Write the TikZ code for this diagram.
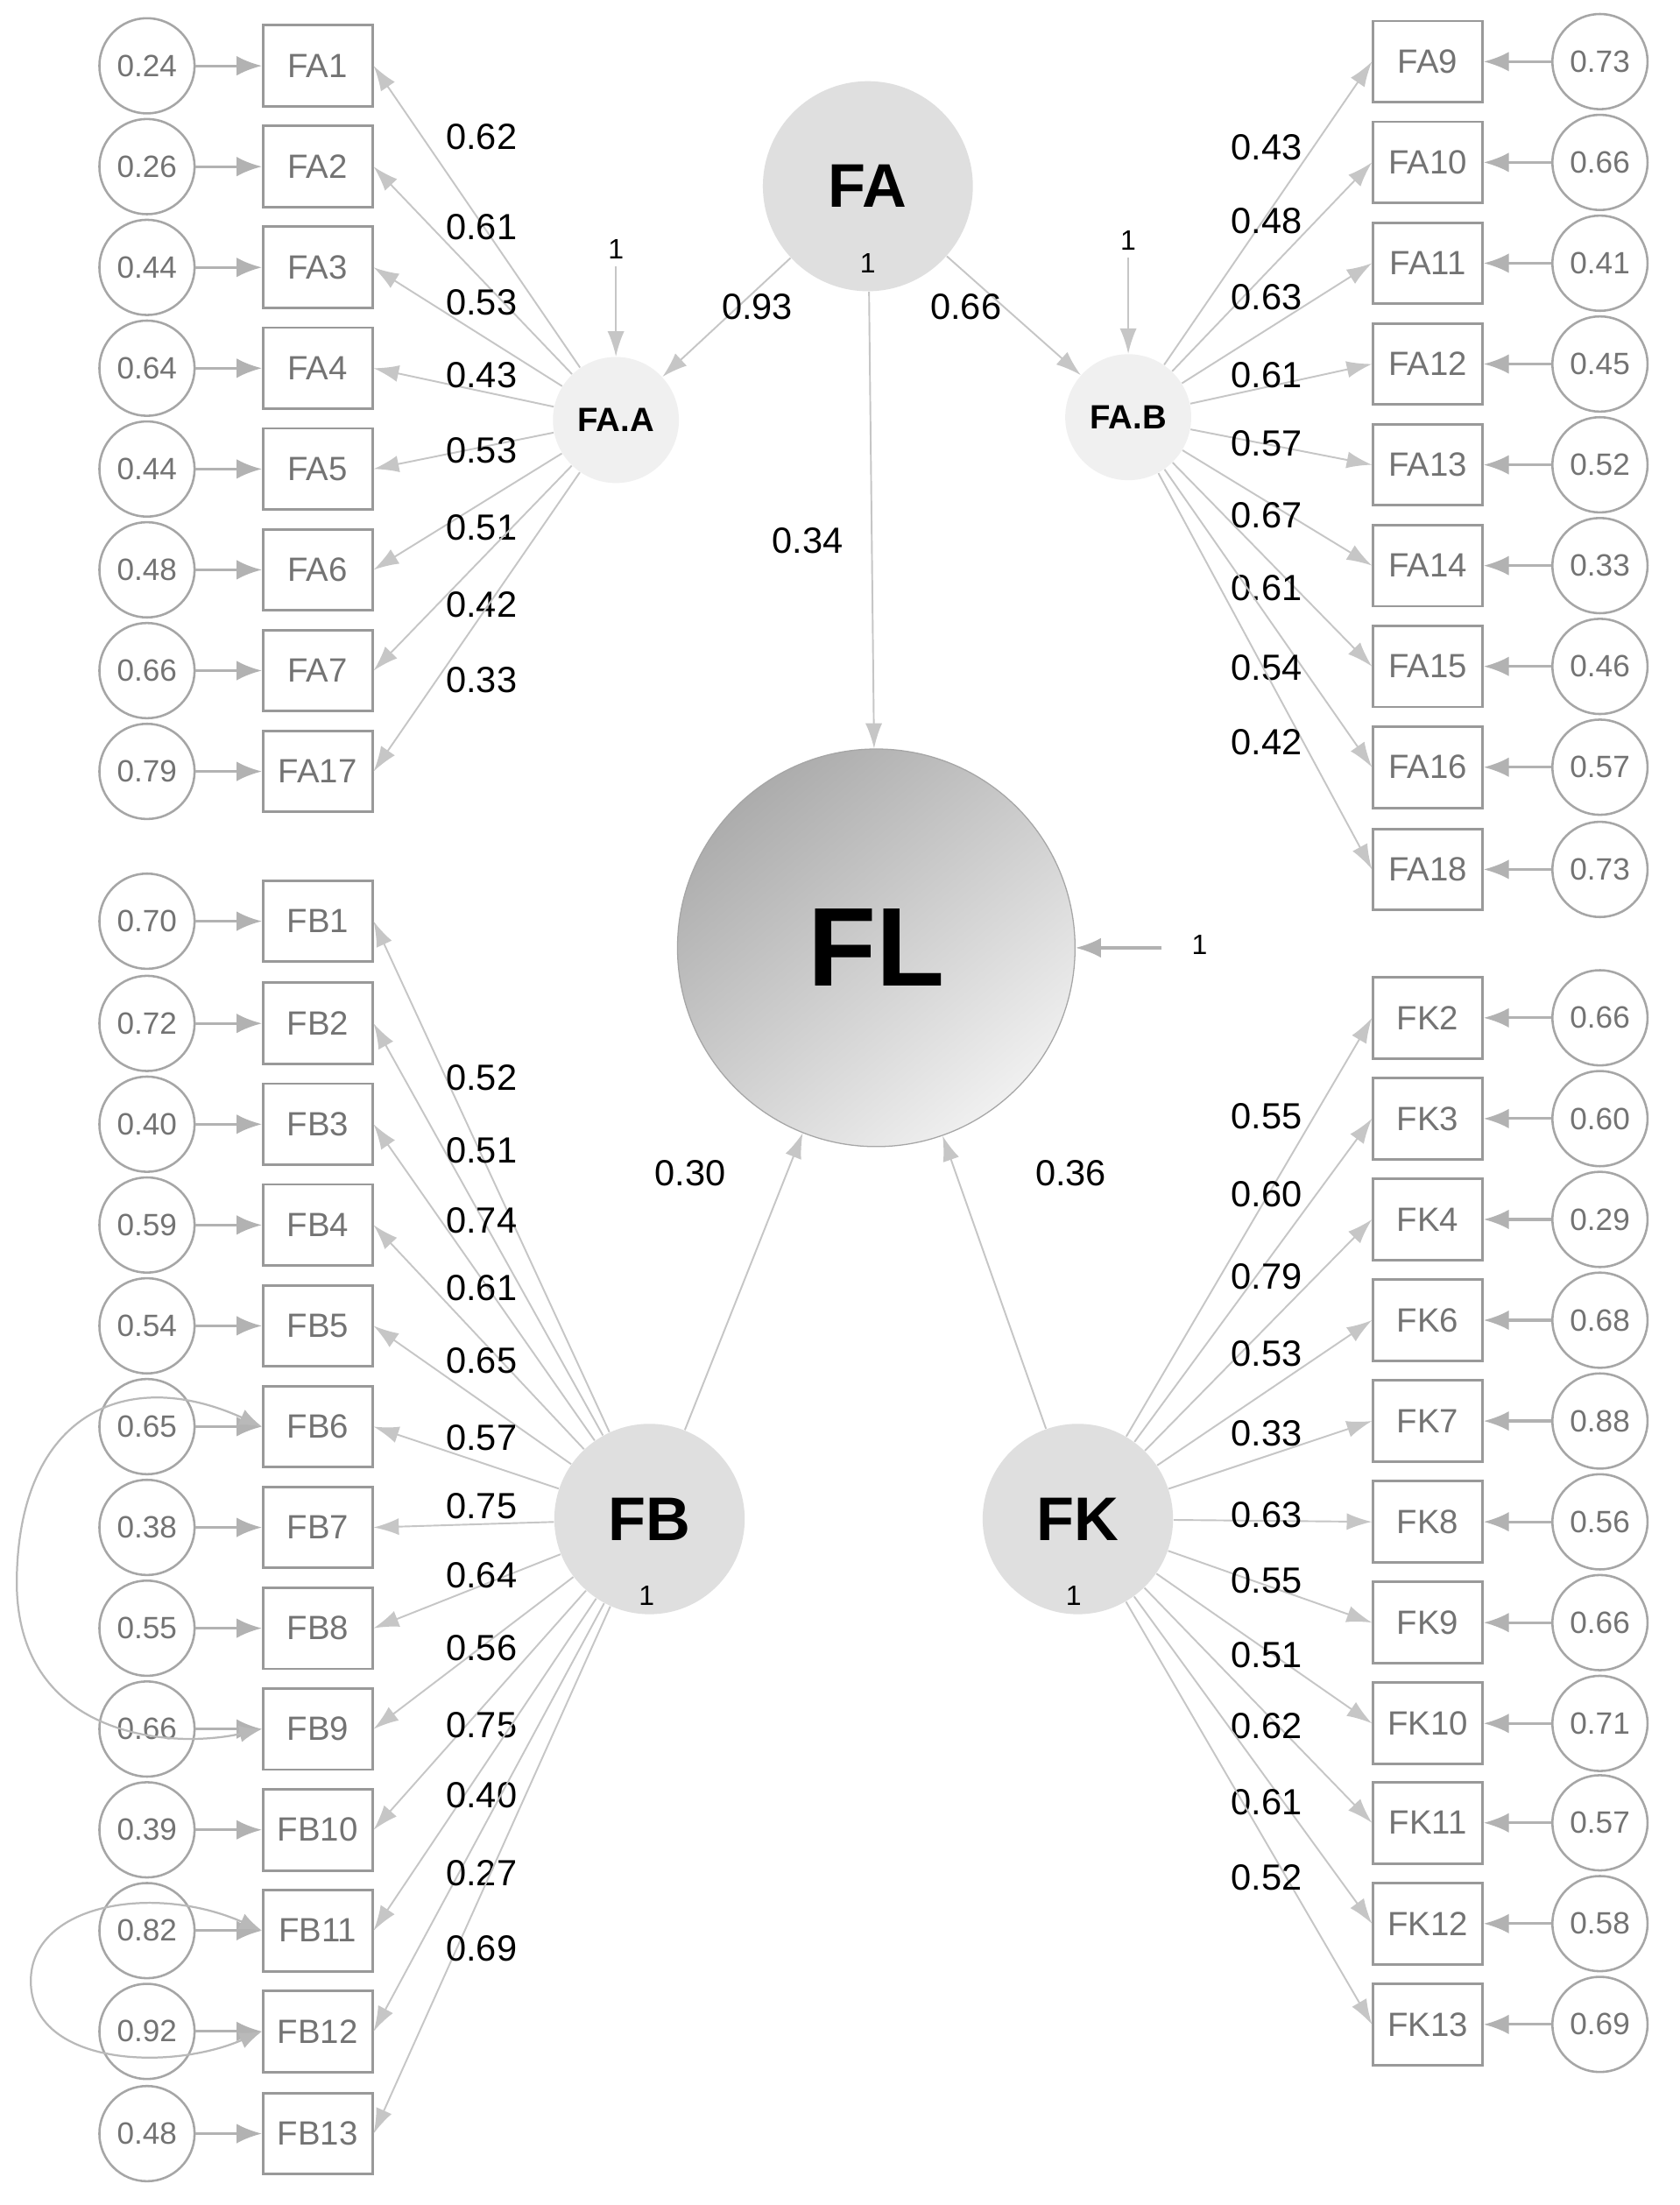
\documentclass[tikz,border=0pt]{standalone}
\usepackage{fontspec}
\setmainfont{Liberation Sans}
\usetikzlibrary{arrows.meta}
\begin{document}
\begin{tikzpicture}[x=0.5pt,y=-0.5pt,
  obs/.style={draw=gray!80,line width=0.9pt,minimum width=39pt,minimum height=29pt,inner sep=0pt,text=gray!90!black,font=\fontsize{12}{12}\selectfont},
  err/.style={circle,draw=gray!70,line width=0.8pt,minimum size=34pt,inner sep=0pt,text=gray!90!black,font=\fontsize{11}{11}\selectfont},
  lat/.style={circle,fill=gray!25,inner sep=0pt,font=\bfseries\fontsize{22}{22}\selectfont},
  sub/.style={circle,fill=gray!12,inner sep=0pt,font=\bfseries\fontsize{12}{12}\selectfont},
  ar/.style={-{Latex[length=9pt,width=6pt]},draw=gray!45,line width=0.6pt,color=gray!45},
  ear/.style={-{Latex[length=9pt,width=7pt]},draw=gray!60,line width=1pt,color=gray!60},
  cov/.style={{Latex[length=8pt,width=6pt]}-{Latex[length=8pt,width=6pt]},draw=gray!55,color=gray!55,line width=0.7pt},
  lab/.style={font=\fontsize{13}{13}\selectfont},
  one/.style={font=\fontsize{10}{10}\selectfont}]
\useasboundingbox (0,0) rectangle (1200,1575);
\fill[white] (0,0) rectangle (1200,1575);
% latents
\node[lat,minimum size=75pt] (FA) at (620,133) {FA};
\node[one] at (620,188) {1};
\node[sub,minimum size=45pt] (FAA) at (440,300) {FA.A};
\node[sub,minimum size=45pt] (FAB) at (806,298) {FA.B};
\node[circle,draw=gray!70,minimum size=142pt,inner sep=0pt,shading=axis,left color=gray!65,right color=gray!12,shading angle=40,font=\bfseries\fontsize{40}{40}\selectfont] (FL) at (626,677) {FL};
\node[lat,minimum size=68pt] (FB) at (464,1085) {FB};
\node[one] at (462,1140) {1};
\node[lat,minimum size=68pt] (FK) at (770,1085) {FK};
\node[one] at (767,1140) {1};
% structural
\draw[ar] (FA) -- (FAA); \node[lab] at (541,219) {0.93};
\draw[ar] (FA) -- (FAB); \node[lab] at (690,219) {0.66};
\draw[ar] (FA) -- (FL); \node[lab] at (577,386) {0.34};
\draw[ar] (FB) -- (FL); \node[lab] at (493,838) {0.30};
\draw[ar] (FK) -- (FL); \node[lab] at (765,838) {0.36};
\coordinate (d0) at (830,677); \node[one] at (857,675) {1};
\draw[ear] (d0) -- (FL.east);
\coordinate (d1) at (440,190); \node[one] at (440,178) {1};
\draw[ar] (d1) -- (FAA.north);
\coordinate (d2) at (806,184); \node[one] at (806,172) {1};
\draw[ar] (d2) -- (FAB.north);
% FA.A
\foreach \n/\y/\e/\l/\ly in {FA1/47/0.24/0.62/98,FA2/119/0.26/0.61/162,FA3/191/0.44/0.53/216,FA4/263/0.64/0.43/268,FA5/335/0.44/0.53/322,FA6/407/0.48/0.51/377,FA7/479/0.66/0.42/432,FA17/551/0.79/0.33/486}{
  \node[obs] (\n) at (227,\y) {\n};
  \node[err] (e\n) at (105,\y) {\e};
  \draw[ear] (e\n) -- (\n);
  \draw[ar] (FAA) -- (\n.east);
  \node[lab] at (344,\ly) {\l};}
% FA.B
\foreach \n/\y/\e/\l/\ly in {FA9/44/0.73/0.43/105,FA10/116/0.66/0.48/158,FA11/188/0.41/0.63/212,FA12/260/0.45/0.61/268,FA13/332/0.52/0.57/317,FA14/404/0.33/0.67/368,FA15/476/0.46/0.61/420,FA16/548/0.57/0.54/477,FA18/621/0.73/0.42/530}{
  \node[obs] (\n) at (1020,\y) {\n};
  \node[err] (e\n) at (1143,\y) {\e};
  \draw[ear] (e\n) -- (\n);
  \draw[ar] (FAB) -- (\n.west);
  \node[lab] at (905,\ly) {\l};}
% FB
\foreach \n/\y/\e/\l/\ly in {FB1/658/0.70/0.52/770,FB2/731/0.72/0.51/822,FB3/803/0.40/0.74/872,FB4/875/0.59/0.61/920,FB5/947/0.54/0.65/972,FB6/1019/0.65/0.57/1027,FB7/1091/0.38/0.75/1076,FB8/1163/0.55/0.64/1125,FB9/1235/0.66/0.56/1177,FB10/1307/0.39/0.75/1232,FB11/1379/0.82/0.40/1282,FB12/1451/0.92/0.27/1338,FB13/1524/0.48/0.69/1392}{
  \node[obs] (\n) at (227,\y) {\n};
  \node[err] (e\n) at (105,\y) {\e};
  \draw[ear] (e\n) -- (\n);
  \draw[ar] (FB) -- (\n.east);
  \node[lab] at (344,\ly) {\l};}
% FK
\foreach \n/\y/\e/\l/\ly in {FK2/727/0.66/0.55/797,FK3/799/0.60/0.60/853,FK4/871/0.29/0.79/912,FK6/943/0.68/0.53/967,FK7/1015/0.88/0.33/1024,FK8/1087/0.56/0.63/1082,FK9/1159/0.66/0.55/1129,FK10/1231/0.71/0.51/1182,FK11/1302/0.57/0.62/1233,FK12/1374/0.58/0.61/1287,FK13/1446/0.69/0.52/1341}{
  \node[obs] (\n) at (1020,\y) {\n};
  \node[err] (e\n) at (1143,\y) {\e};
  \draw[ear] (e\n) -- (\n);
  \draw[ar] (FK) -- (\n.west);
  \node[lab] at (905,\ly) {\l};}
% covariances
\draw[cov] (FB6.west) .. controls (90,975) and (14,1010) .. (12,1127) .. controls (10,1240) and (120,1250) .. (FB9.west);
\draw[cov] (FB11.west) .. controls (110,1345) and (22,1360) .. (22,1415) .. controls (22,1475) and (120,1480) .. (FB12.west);
\end{tikzpicture}
\end{document}
